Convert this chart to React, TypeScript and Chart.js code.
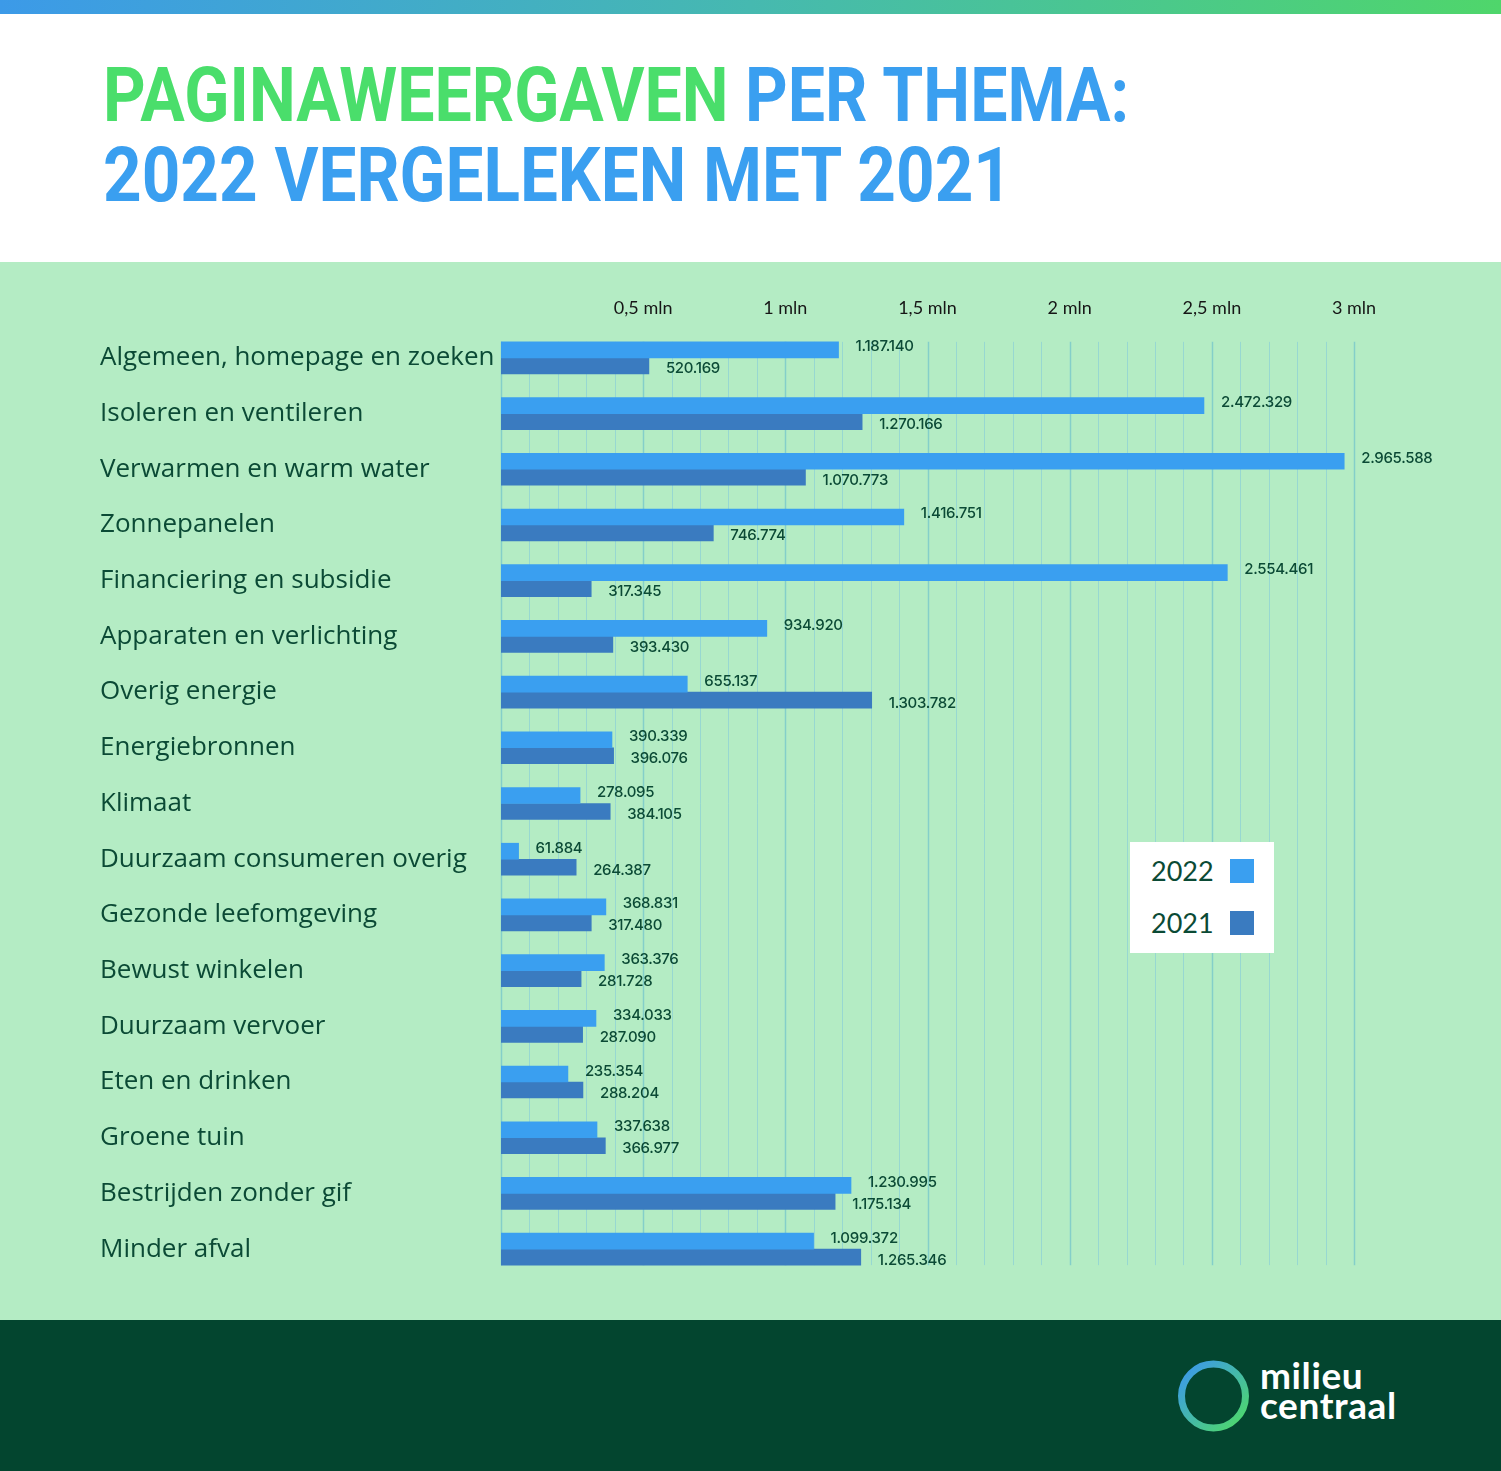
import React, { useEffect, useRef } from "react";
import { Chart, registerables } from "chart.js";

Chart.register(...registerables);

const categories = [
  "Algemeen, homepage en zoeken",
  "Isoleren en ventileren",
  "Verwarmen en warm water",
  "Zonnepanelen",
  "Financiering en subsidie",
  "Apparaten en verlichting",
  "Overig energie",
  "Energiebronnen",
  "Klimaat",
  "Duurzaam consumeren overig",
  "Gezonde leefomgeving",
  "Bewust winkelen",
  "Duurzaam vervoer",
  "Eten en drinken",
  "Groene tuin",
  "Bestrijden zonder gif",
  "Minder afval",
];
const views2022 = [
  1187140, 2472329, 2965588, 1416751, 2554461, 934920, 655137, 390339, 278095,
  61884, 368831, 363376, 334033, 235354, 337638, 1230995, 1099372,
];
const views2021 = [
  520169, 1270166, 1070773, 746774, 317345, 393430, 1303782, 396076, 384105,
  264387, 317480, 281728, 287090, 288204, 366977, 1175134, 1265346,
];
const seriesLabels = ["2022", "2021"];
const tickValues = [500000, 1000000, 1500000, 2000000, 2500000, 3000000];
const tickLabels = ["0,5 mln", "1 mln", "1,5 mln", "2 mln", "2,5 mln", "3 mln"];
const axisMax = 3000000;
const gridStep = 100000;

const COLOR_2022 = "#3a9ff0";
const COLOR_2021 = "#3a7bc0";
const TEXT_DARK = "#0b4a35";

const fmt = (v: number) => String(v).replace(/\B(?=(\d{3})+(?!\d))/g, ".");

const gridPlugin = {
  id: "customGrid",
  beforeDatasetsDraw(chart: any) {
    const { ctx } = chart;
    const xs = chart.scales.x;
    const ys = chart.scales.y;
    const top = ys.getPixelForValue(0) - 16;
    const bottom = ys.getPixelForValue(categories.length - 1) + 16;
    ctx.save();
    for (let v = 0; v <= axisMax; v += gridStep) {
      const x = Math.round(xs.getPixelForValue(v)) + 0.5;
      const major = v % 500000 === 0;
      ctx.strokeStyle = major ? "#84cfc9" : "#97d8d1";
      ctx.lineWidth = major ? 1.5 : 1;
      ctx.beginPath();
      ctx.moveTo(x, top);
      ctx.lineTo(x, bottom);
      ctx.stroke();
    }
    ctx.restore();
  },
};

const valueLabelPlugin = {
  id: "valueLabels",
  afterDatasetsDraw(chart: any) {
    const { ctx } = chart;
    chart.data.datasets.forEach((ds: any, di: number) => {
      const meta = chart.getDatasetMeta(di);
      meta.data.forEach((el: any, i: number) => {
        ctx.save();
        ctx.font = "500 15px Inter";
        (ctx as any).letterSpacing = "-0.3px";
        ctx.fillStyle = TEXT_DARK;
        ctx.textBaseline = "middle";
        ctx.textAlign = "left";
        ctx.fillText(fmt(ds.data[i]), el.x + 17, el.y + (di === 0 ? -3 : 3));
        ctx.restore();
      });
    });
  },
};

function BarChart() {
  const ref = useRef<HTMLCanvasElement | null>(null);
  useEffect(() => {
    if (!ref.current) return;
    const chart = new Chart(ref.current, {
      type: "bar",
      data: {
        labels: categories,
        datasets: [
          {
            label: seriesLabels[0],
            data: views2022,
            backgroundColor: COLOR_2022,
            barThickness: 16,
          },
          {
            label: seriesLabels[1],
            data: views2021,
            backgroundColor: COLOR_2021,
            barThickness: 16,
          },
        ],
      },
      options: {
        indexAxis: "y",
        responsive: false,
        animation: false,
        layout: { padding: { left: 100, right: 147, top: 0, bottom: 43 } },
        plugins: { legend: { display: false }, tooltip: { enabled: false } },
        scales: {
          x: {
            type: "linear",
            position: "top",
            min: 0,
            max: axisMax,
            grid: { display: false, drawTicks: false },
            border: { display: false },
            ticks: {
              stepSize: 500000,
              padding: 11,
              color: "#161616",
              font: { family: "Lato", size: 18 },
              callback: (v: any) => {
                const idx = tickValues.indexOf(Number(v));
                return idx >= 0 ? tickLabels[idx] : "";
              },
            },
            afterFit: (axis: any) => {
              axis.height = 68;
            },
          },
          y: {
            type: "category",
            grid: { display: false, drawTicks: false },
            border: { display: false },
            ticks: {
              crossAlign: "far",
              padding: 0,
              color: TEXT_DARK,
              font: { family: "Open Sans", size: 26 },
            },
            afterFit: (axis: any) => {
              axis.width = 401;
            },
          },
        },
      } as any,
      plugins: [gridPlugin, valueLabelPlugin],
    });
    return () => chart.destroy();
  }, []);
  return (
    <canvas
      ref={ref}
      width={1501}
      height={1058}
      style={{ position: "absolute", left: 0, top: 262, width: 1501, height: 1058 }}
    />
  );
}

export default function App() {
  useEffect(() => {
    document.body.style.margin = "0";
  }, []);
  const titleStyle: React.CSSProperties = {
    position: "absolute",
    left: 103,
    fontFamily: "Roboto",
    fontWeight: 700,
    fontSize: 76,
    lineHeight: "76px",
    whiteSpace: "nowrap",
    transformOrigin: "left top",
    margin: 0,
  };
  return (
    <div
      style={{
        position: "relative",
        width: 1501,
        height: 1471,
        overflow: "hidden",
        background: "#ffffff",
        fontFamily: "Lato",
      }}
    >
      <div
        style={{
          position: "absolute",
          left: 0,
          top: 0,
          width: 1501,
          height: 14,
          background: "linear-gradient(90deg, #3c9ae8 0%, #46b9b0 50%, #4fd66b 100%)",
        }}
      />
      <div style={{ ...titleStyle, top: 57, transform: "scaleX(0.872)" }}>
        <span style={{ color: "#4ade6b" }}>PAGINAWEERGAVEN</span>{" "}
        <span style={{ color: "#3a9ff0" }}>PER THEMA:</span>
      </div>
      <div style={{ ...titleStyle, top: 137, color: "#3a9ff0", transform: "scaleX(0.887)" }}>
        2022 VERGELEKEN MET 2021
      </div>
      <div
        style={{
          position: "absolute",
          left: 0,
          top: 262,
          width: 1501,
          height: 1058,
          background: "#b4ecc4",
        }}
      />
      <BarChart />
      <div
        style={{
          position: "absolute",
          left: 1130,
          top: 842,
          width: 144,
          height: 111,
          background: "#ffffff",
        }}
      >
        {[0, 1].map((i) => (
          <div
            key={i}
            style={{
              position: "absolute",
              left: 21,
              top: 14 + i * 52,
              height: 30,
              display: "flex",
              alignItems: "center",
            }}
          >
            <span
              style={{
                fontFamily: "Lato",
                fontSize: 27,
                color: TEXT_DARK,
                width: 79,
                lineHeight: "30px",
              }}
            >
              {seriesLabels[i]}
            </span>
            <span
              style={{
                display: "inline-block",
                width: 24,
                height: 24,
                background: i === 0 ? COLOR_2022 : COLOR_2021,
              }}
            />
          </div>
        ))}
      </div>
      <div
        style={{
          position: "absolute",
          left: 0,
          top: 1320,
          width: 1501,
          height: 151,
          background: "#03452f",
        }}
      >
        <svg
          width={80}
          height={80}
          style={{ position: "absolute", left: 1174, top: 36 }}
        >
          <defs>
            <linearGradient id="ringGrad" x1="0" y1="0" x2="1" y2="1">
              <stop offset="0%" stopColor="#3b95f0" />
              <stop offset="100%" stopColor="#4fdc64" />
            </linearGradient>
          </defs>
          <circle cx={39.5} cy={40} r={32} fill="none" stroke="url(#ringGrad)" strokeWidth={7} />
        </svg>
        <div
          style={{
            position: "absolute",
            left: 1260,
            top: 40,
            color: "#ffffff",
            fontFamily: "Lato",
            fontWeight: 700,
            fontSize: 37,
            lineHeight: "30px",
            letterSpacing: "0.6px",
          }}
        >
          milieu
          <br />
          centraal
        </div>
      </div>
    </div>
  );
}
